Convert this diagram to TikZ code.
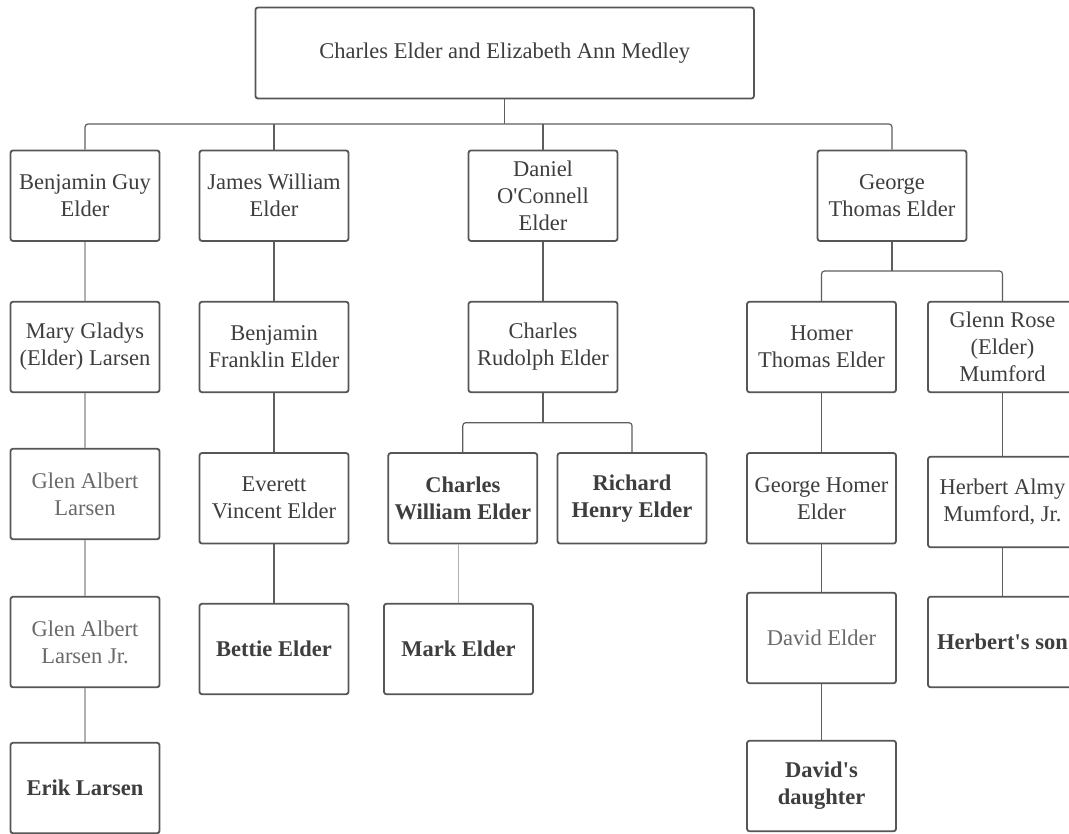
\documentclass[tikz,border=0pt]{standalone}
\usepackage{fontspec}
\setmainfont{Liberation Serif}
\begin{document}
\begin{tikzpicture}[x=1pt,y=-1pt,
  person/.style={draw=boxc, line width=1.8pt, rounded corners=2.5pt, fill=white,
    minimum width=149pt, minimum height=90.5pt, align=center, inner sep=1pt,
    text=txt, font=\fontsize{22.5}{27}\selectfont},
  leaf/.style={person, font=\fontsize{22.5}{27}\selectfont\bfseries},
  pale/.style={person, text=txtl},
  link/.style={draw=linec, line width=1.2pt, rounded corners=3pt},
  plink/.style={draw=linel, line width=1.4pt}]
\definecolor{boxc}{HTML}{565656}
\definecolor{linec}{HTML}{5E5E5E}
\definecolor{linel}{HTML}{B0B0B0}
\definecolor{txt}{HTML}{3E3E3E}
\definecolor{txtl}{HTML}{6A6A6A}
\clip (0,0) rectangle (1069,834);
\fill[white] (0,0) rectangle (1069,834);

% parents
\node[person, minimum width=498.5pt, minimum height=91pt] (top) at (504.7,53) {Charles Elder and Elizabeth Ann Medley};

% row 1
\node[person] (bg)  at (85,195.7)  {Benjamin Guy\\Elder};
\node[person] (jw)  at (274,195.7) {James William\\Elder};
\node[person] (dan) at (543,195.7) {Daniel\\O\textquotesingle Connell\\Elder};
\node[person] (geo) at (892,195.7) {George\\Thomas Elder};

% row 2
\node[person] (mary)  at (85,347)     {Mary Gladys\\(Elder) Larsen};
\node[person] (bf)    at (274,347)    {Benjamin\\Franklin Elder};
\node[person] (cr)    at (543,347)    {Charles\\Rudolph Elder};
\node[person] (homer) at (821.5,347)  {Homer\\Thomas Elder};
\node[person] (glenn) at (1002.5,347) {Glenn Rose\\(Elder)\\Mumford};

% row 3
\node[pale]   (glen) at (85,494)      {Glen Albert\\Larsen};
\node[person] (ev)   at (274,498.3)   {Everett\\Vincent Elder};
\node[leaf]   (cw)   at (462.8,498.3) {Charles\\William Elder};
\node[leaf]   (rh)   at (632,498.3)   {Richard\\Henry Elder};
\node[person] (gh)   at (821.5,498.3) {George Homer\\Elder};
\node[person] (ha)   at (1002.5,502)  {Herbert Almy\\Mumford, Jr.};

% row 4
\node[pale]   (gjr)    at (85,642)     {Glen Albert\\Larsen Jr.};
\node[leaf]   (bettie) at (274,649)    {Bettie Elder};
\node[leaf]   (mark)   at (458.5,649)  {Mark Elder};
\node[pale]   (david)  at (821.5,638)  {David Elder};
\node[leaf]   (hson)   at (1002.5,642) {Herbert\textquotesingle s son};

% row 5
\node[leaf] (erik) at (85,788)    {Erik Larsen};
\node[leaf] (dd)   at (821.5,786) {David\textquotesingle s\\daughter};

% connectors: parents to children
\coordinate (bus) at (504.7,124);
\draw[link] (top.south) -- (bus);
\draw[link] (bg.north) |- (bus);
\draw[link] (geo.north) |- (bus);
\draw[link] (jw.north) -- (jw.north |- bus);
\draw[link] (dan.north) -- (dan.north |- bus);

% Benjamin Guy line
\draw[plink] (bg.south) -- (mary.north);
\draw[plink] (mary.south) -- (glen.north);
\draw[plink] (glen.south) -- (gjr.north);
\draw[plink] (gjr.south) -- (erik.north);

% James William line
\draw[link] (jw.south) -- (bf.north);
\draw[link] (bf.south) -- (ev.north);
\draw[link] (ev.south) -- (bettie.north);

% Daniel line
\draw[link] (dan.south) -- (cr.north);
\coordinate (crbus) at (543,422.7);
\draw[link] (cr.south) -- (crbus);
\draw[link] (cw.north) |- (crbus);
\draw[link] (rh.north) |- (crbus);
\draw[plink] (mark.north) -- (mark.north |- cw.south);

% George line
\coordinate (gbus) at (892,271);
\draw[link] (geo.south) -- (gbus);
\draw[link] (homer.north) |- (gbus);
\draw[link] (glenn.north) |- (gbus);
\draw[link] (homer.south) -- (gh.north);
\draw[link] (gh.south) -- (david.north);
\draw[link] (david.south) -- (dd.north);
\draw[link] (glenn.south) -- (ha.north);
\draw[link] (ha.south) -- (hson.north);
\end{tikzpicture}
\end{document}
